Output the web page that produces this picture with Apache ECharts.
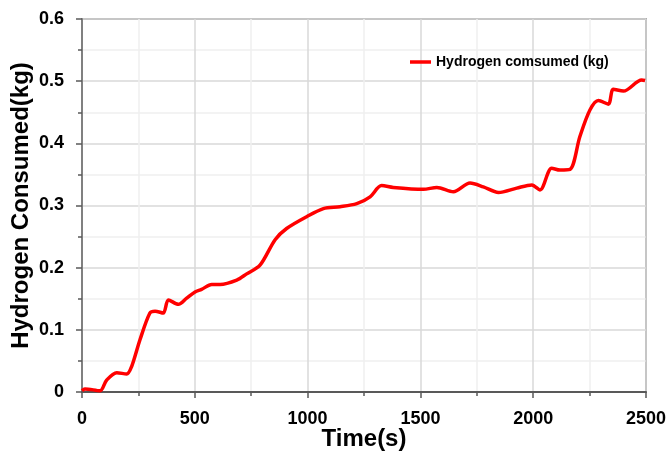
<!DOCTYPE html>
<html>
<head>
<meta charset="utf-8">
<script src="https://cdn.jsdelivr.net/npm/echarts@6/dist/echarts.min.js"></script>
<style>
html,body{margin:0;padding:0;background:#fff;}
#chart{width:672px;height:453px;}
</style>
</head>
<body>
<div id="chart"></div>
<script>
const times = [0, 13, 80, 109, 154, 198, 220, 257, 301, 324, 360, 383, 427, 464, 501, 530, 575, 612, 686, 730, 789, 856, 907, 996, 1070, 1144, 1218, 1277, 1328, 1380, 1513, 1573, 1646, 1720, 1779, 1846, 1927, 1994, 2030, 2082, 2119, 2163, 2207, 2252, 2289, 2333, 2355, 2400, 2481, 2496];
const hydrogen = [0.002, 0.005, 0.002, 0.019, 0.031, 0.029, 0.041, 0.084, 0.127, 0.130, 0.127, 0.148, 0.141, 0.151, 0.161, 0.165, 0.173, 0.173, 0.180, 0.190, 0.204, 0.245, 0.263, 0.282, 0.295, 0.298, 0.303, 0.314, 0.332, 0.329, 0.326, 0.329, 0.322, 0.336, 0.330, 0.321, 0.328, 0.333, 0.325, 0.360, 0.357, 0.358, 0.411, 0.454, 0.469, 0.463, 0.487, 0.484, 0.502, 0.501];
const seriesName = 'Hydrogen comsumed (kg)';
const xTitle = 'Time(s)';
const yTitle = 'Hydrogen Consumed(kg)';

const FONT = "'Liberation Sans', Arial, sans-serif";
const chart = echarts.init(document.getElementById('chart'), null, {renderer: 'canvas'});
const data = times.map((t, i) => [t, hydrogen[i]]);

chart.setOption({
  animation: false,
  grid: {left: 82, right: 26, top: 19, bottom: 61, show: true, borderColor: '#6e6e6e', borderWidth: 1.5,
    containLabel: false, outerBoundsMode: 'none'},
  legend: {
    data: [{name: seriesName, icon: 'rect'}],
    left: 405, top: 50,
    itemWidth: 21, itemHeight: 3.5, itemGap: 4,
    itemStyle: {color: '#ff0000'},
    textStyle: {fontFamily: FONT, fontWeight: 'bold', fontSize: 14, color: '#000'}
  },
  xAxis: {
    type: 'value', min: 0, max: 2500, interval: 500,
    name: xTitle, nameLocation: 'middle', nameGap: 35, nameMoveOverlap: false,
    nameTextStyle: {fontFamily: FONT, fontWeight: 'bold', fontSize: 24, color: '#000'},
    axisLine: {show: true, lineStyle: {color: '#595959', width: 2}},
    axisTick: {show: true, inside: false, length: 6, lineStyle: {color: '#595959', width: 1.5}},
    minorTick: {show: true, splitNumber: 2, length: 4, lineStyle: {color: '#595959', width: 1.5}},
    axisLabel: {fontFamily: FONT, fontWeight: 'bold', fontSize: 18, color: '#000', margin: 18,
      formatter: v => String(v)},
    splitLine: {show: true, lineStyle: {color: '#d9d9d9', width: 1.5}},
    minorSplitLine: {show: true, lineStyle: {color: '#efefef', width: 1.5}}
  },
  yAxis: {
    type: 'value', min: 0, max: 0.6, interval: 0.1,
    name: yTitle, nameLocation: 'middle', nameGap: 49, nameRotate: 90, nameMoveOverlap: false,
    nameTextStyle: {fontFamily: FONT, fontWeight: 'bold', fontSize: 24, color: '#000'},
    axisLine: {show: true, lineStyle: {color: '#808080', width: 2}},
    axisTick: {show: true, inside: false, length: 6, lineStyle: {color: '#595959', width: 1.5}},
    minorTick: {show: true, splitNumber: 2, length: 4, lineStyle: {color: '#595959', width: 1.5}},
    axisLabel: {fontFamily: FONT, fontWeight: 'bold', fontSize: 18, color: '#000', margin: 18,
      formatter: v => (v === 0 ? '0' : v.toFixed(1))},
    splitLine: {show: true, lineStyle: {color: '#d9d9d9', width: 1.5}},
    minorSplitLine: {show: true, lineStyle: {color: '#efefef', width: 1.5}}
  },
  series: [{
    name: seriesName, type: 'line', data: data,
    smooth: 0.3, symbol: 'none', showSymbol: false,
    lineStyle: {color: '#ff0000', width: 3.5},
    itemStyle: {color: '#ff0000'}
  }]
});
</script>
</body>
</html>
